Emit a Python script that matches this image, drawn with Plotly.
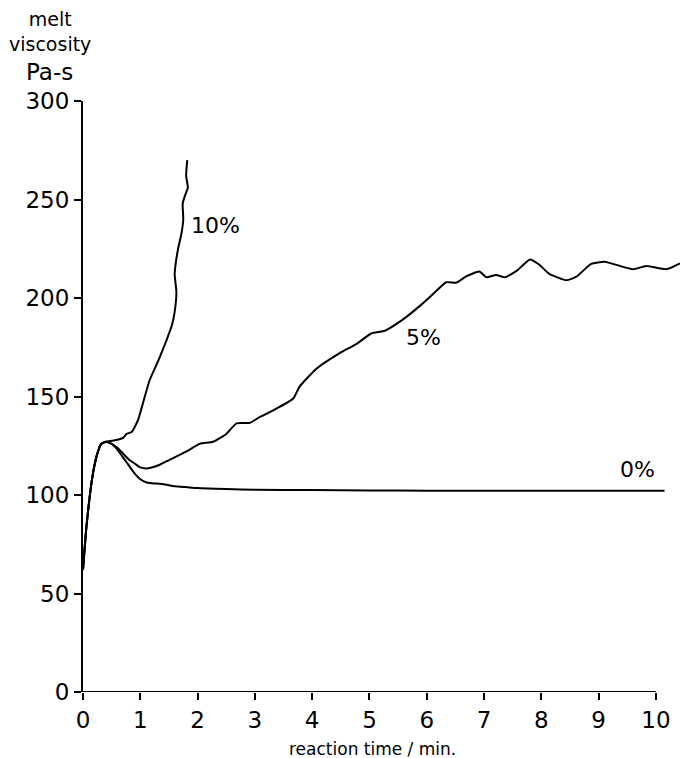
import plotly.graph_objects as go

FONT = "DejaVu Sans, sans-serif"

# reaction time [min] and melt viscosity [Pa-s]
t_0 = [0.0, 0.06, 0.12, 0.18, 0.25, 0.32, 0.4, 0.5, 0.6, 0.7, 0.8, 0.9, 1.0, 1.1, 1.2,
       1.4, 1.6, 1.8, 2.0, 2.5, 3.0, 4.0, 5.0, 6.0, 7.0, 8.0, 9.0, 10.0, 10.15]
visc_0 = [62, 84, 100, 112, 121, 126, 127, 126, 123, 119, 115, 111, 108, 106.5, 106,
          105.5, 104.5, 104, 103.5, 103, 102.7, 102.5, 102.3, 102.2, 102.2, 102.2, 102.2, 102.2, 102.2]

t_5 = [0.0, 0.06, 0.12, 0.18, 0.25, 0.32, 0.4, 0.5, 0.6, 0.7, 0.8, 0.9, 1.0, 1.1, 1.2,
       1.35, 1.51, 1.8, 2.04, 2.27, 2.5, 2.68, 2.91, 3.08, 3.32, 3.67, 3.78, 4.07, 4.48,
       4.77, 5.03, 5.27, 5.58, 5.88, 6.11, 6.34, 6.52, 6.69, 6.92, 7.04, 7.21, 7.36, 7.58,
       7.8, 7.96, 8.14, 8.44, 8.61, 8.87, 9.1, 9.31, 9.6, 9.83, 10.18, 10.42]
visc_5 = [62, 84, 100, 112, 121, 126, 127, 126, 124, 121, 118, 116, 114, 113.5, 114,
          115.5, 117.8, 122, 126, 127, 131, 136.4, 136.6, 139.5, 143, 149, 155, 164, 172,
          176.6, 182, 183.4, 189, 196, 202, 208, 207.8, 211, 213.4, 210.5, 211.7, 210.5, 214,
          219.6, 217, 212.2, 209, 210.8, 217.3, 218.4, 216.8, 214.6, 216.2, 214.6, 217.6]

t_10 = [0.0, 0.06, 0.12, 0.18, 0.25, 0.32, 0.4, 0.5, 0.6, 0.7, 0.76, 0.85, 0.96, 1.05,
        1.16, 1.25, 1.34, 1.45, 1.55, 1.6, 1.63, 1.6, 1.62, 1.66, 1.72, 1.75, 1.74, 1.78,
        1.83, 1.8, 1.82]
visc_10 = [62, 84, 100, 112, 121, 126, 127, 127.5, 128, 129, 131, 132, 138, 147,
           158, 164, 170, 178, 186, 193, 203, 212, 218, 225, 233, 240, 248, 252,
           256, 262, 270]

labels = ["0%", "5%", "10%"]
label_x = [9.68, 5.95, 2.32]
label_y = [113, 180, 237]

y_ticks = [0, 50, 100, 150, 200, 250, 300]
x_ticks = list(range(0, 11))

fig = go.Figure()
for t, v in [(t_0, visc_0), (t_5, visc_5), (t_10, visc_10)]:
    fig.add_trace(go.Scatter(x=t, y=v, mode="lines", showlegend=False,
                             line=dict(color="black", width=2, shape="spline", smoothing=0.5)))

for txt, lx, ly in zip(labels, label_x, label_y):
    fig.add_annotation(x=lx, y=ly, text=txt, showarrow=False,
                       font=dict(family=FONT, size=22, color="black"))

# x axis line stops at 10 while the data run past it
fig.add_shape(type="line", x0=-0.12, x1=10, y0=0, y1=0, line=dict(color="black", width=2))

fig.add_annotation(x=0, y=1, xref="paper", yref="paper", xanchor="center", yanchor="bottom",
                   xshift=-33, yshift=44, text="melt<br>viscosity", showarrow=False, align="center",
                   font=dict(family=FONT, size=19, color="black"))
fig.add_annotation(x=0, y=1, xref="paper", yref="paper", xanchor="center", yanchor="bottom",
                   xshift=-34, yshift=14, text="Pa-s", showarrow=False,
                   font=dict(family=FONT, size=23, color="black"))
fig.add_annotation(x=5.05, y=0, xref="x", yref="paper", yanchor="top", yshift=-45,
                   text="reaction time / min.", showarrow=False,
                   font=dict(family=FONT, size=17, color="black"))

fig.update_xaxes(range=[0, 10.42], tickvals=x_ticks, ticks="outside", ticklen=7, tickwidth=1.5,
                 tickcolor="black", showline=False, showgrid=False, zeroline=False,
                 tickfont=dict(family=FONT, size=23, color="black"))
fig.update_yaxes(range=[0, 300], tickvals=y_ticks, ticks="outside", ticklen=7, tickwidth=1.5,
                 tickcolor="black", showline=True, linecolor="black", linewidth=2,
                 showgrid=False, zeroline=False,
                 tickfont=dict(family=FONT, size=23, color="black"))
fig.update_layout(width=680, height=758, paper_bgcolor="white", plot_bgcolor="white",
                  margin=dict(l=83, r=0, t=101, b=66))

# drop the default page margin so the figure sits at the window's corner
fig.write_html("out.html", config={"displayModeBar": False},
               post_script="document.body.style.margin='0';")
